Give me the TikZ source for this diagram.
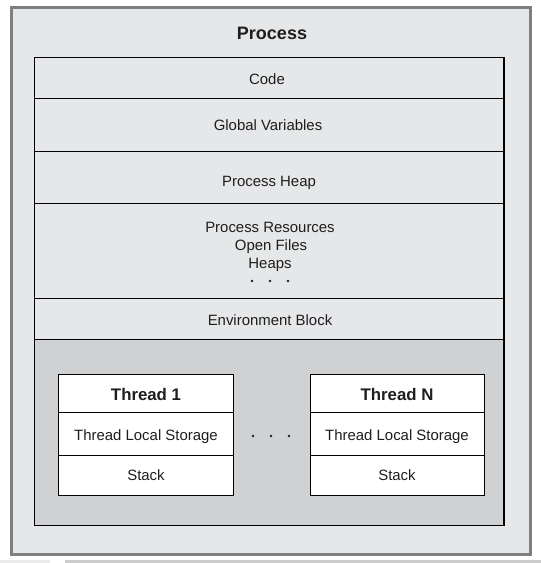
\documentclass[tikz,border=0pt]{standalone}
\usepackage{fontspec}
\setmainfont{Liberation Sans}
\definecolor{outerfill}{HTML}{E6E7E9}
\definecolor{outerline}{HTML}{7F7F7F}
\definecolor{threadarea}{HTML}{D0D1D3}
\definecolor{stripA}{HTML}{EBEBEB}
\definecolor{stripB}{HTML}{CDCDCD}
\definecolor{txt}{HTML}{1E1E1E}
\begin{document}
\begin{tikzpicture}[x=0.75pt,y=-0.75pt,
  rowtext/.style={font=\fontsize{11.2}{13}\selectfont, text=txt, inner sep=0pt, text height=8pt, text depth=0pt},
  titletext/.style={font=\bfseries\fontsize{13.5}{16}\selectfont, text=txt, inner sep=0pt, text height=9.7pt, text depth=0pt},
  thrtitle/.style={font=\bfseries\fontsize{12.6}{15}\selectfont, text=txt, inner sep=0pt, text height=9pt, text depth=0pt},
  sep/.style={draw=black, line width=0.75pt},
  dotmark/.style={circle, fill=txt, inner sep=0pt, minimum size=2pt}]
\useasboundingbox (0,0) rectangle (541,563);
% bottom strip
\fill[stripA] (0,559.5) rectangle (50,563);
\fill[stripB] (65,559.5) rectangle (541,563);
% outer process box
\draw[outerline, fill=outerfill, line width=2.2pt] (11.5,7.5) rectangle (530.5,554.5);
\node[titletext] (proc) at (272,33) {Process};
% inner box
\fill[threadarea] (34.5,339) rectangle (504,525);
\draw[sep] (34.5,57.5) rectangle (504,525);
\draw[black, line width=1.4pt] (504,57.5) -- (504,525.5) -- (34.5,525.5);
\draw[sep] (34.5,98.5) -- (504,98.5);
\draw[sep] (34.5,151) -- (504,151);
\draw[sep] (34.5,203.5) -- (504,203.5);
\draw[sep] (34.5,298.5) -- (504,298.5);
\draw[sep] (34.5,339) -- (504,339);
\node[rowtext] (code) at (267,79) {Code};
\node[rowtext] (glob) at (268,125) {Global Variables};
\node[rowtext] (heap) at (269,181) {Process Heap};
\node[rowtext] (res) at (270,227.5) {Process Resources};
\node[rowtext] (files) at (271,245) {Open Files};
\node[rowtext] (heaps) at (270,263) {Heaps};
\node[dotmark] (rd1) at (252,281) {};
\node[dotmark] (rd2) at (270,281) {};
\node[dotmark] (rd3) at (288,281) {};
\node[rowtext] (env) at (270,320) {Environment Block};
% thread 1
\draw[sep, fill=white] (58.5,374.5) rectangle (233.5,495);
\draw[sep] (58.5,412.5) -- (233.5,412.5);
\draw[sep] (58.5,455.5) -- (233.5,455.5);
\node[thrtitle] (t1) at (146,394) {Thread 1};
\node[rowtext] (t1tls) at (146,435) {Thread Local Storage};
\node[rowtext] (t1stack) at (146,475) {Stack};
% dots between threads
\node[dotmark] (td1) at (253,436) {};
\node[dotmark] (td2) at (271,436) {};
\node[dotmark] (td3) at (289,436) {};
% thread N
\draw[sep, fill=white] (310.5,374.5) rectangle (484.5,495);
\draw[sep] (310.5,412.5) -- (484.5,412.5);
\draw[sep] (310.5,455.5) -- (484.5,455.5);
\node[thrtitle] (tn) at (397,394) {Thread N};
\node[rowtext] (tntls) at (397,435) {Thread Local Storage};
\node[rowtext] (tnstack) at (397,475) {Stack};
\end{tikzpicture}
\end{document}
